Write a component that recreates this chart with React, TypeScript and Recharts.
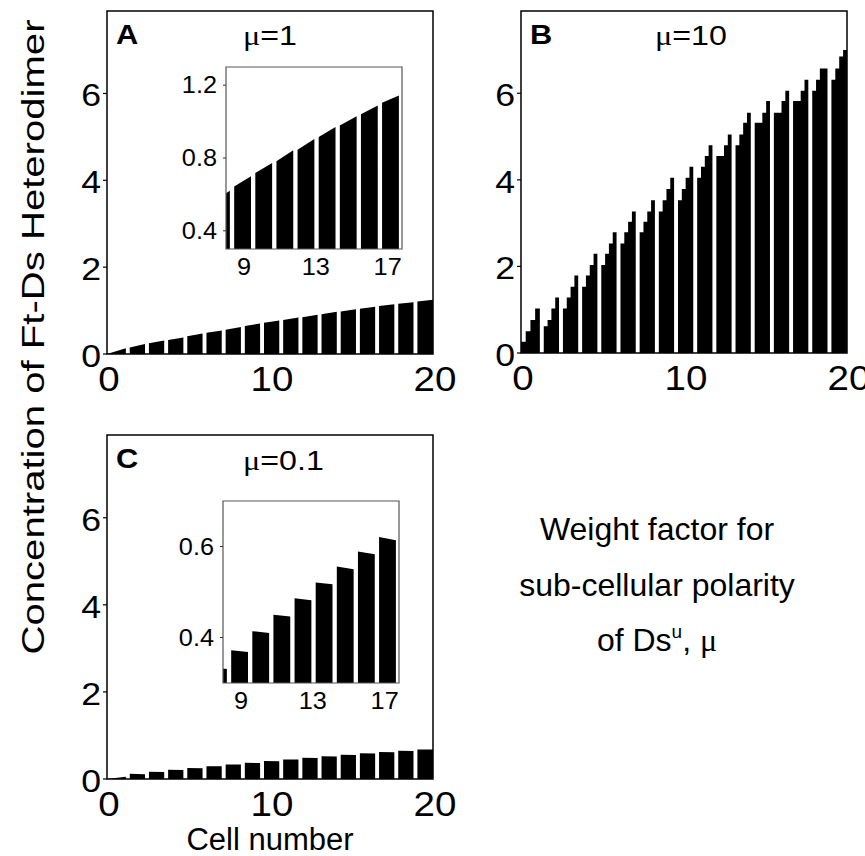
import React from 'react'
import { AreaChart, Area, XAxis, YAxis, ReferenceArea } from 'recharts'

const CELL_COUNT = 17
const X_MAX = 20
const GAP = 0.22

// mu = 1: top of each cell at its left and right membrane
const muOneLeft = [0.0, 0.15, 0.25, 0.32, 0.41, 0.49, 0.56, 0.644, 0.717, 0.782, 0.846, 0.916, 0.979, 1.04, 1.104, 1.16, 1.21]
const muOneRight = [0.13, 0.23, 0.31, 0.38, 0.47, 0.54, 0.62, 0.7, 0.773, 0.842, 0.905, 0.971, 1.03, 1.089, 1.144, 1.19, 1.25]

// mu = 10: four sub-cellular steps in each cell
const muTenSteps = [
  [0.26, 0.5, 0.76, 1.03],
  [0.62, 0.76, 1.03, 1.28],
  [1.03, 1.28, 1.53, 1.79],
  [1.53, 1.79, 2.03, 2.29],
  [2.03, 2.29, 2.53, 2.79],
  [2.53, 2.79, 3.03, 3.27],
  [2.79, 3.03, 3.27, 3.53],
  [3.27, 3.53, 3.79, 4.05],
  [3.53, 3.79, 4.05, 4.3],
  [4.05, 4.3, 4.55, 4.8],
  [4.55, 4.55, 4.8, 5.05],
  [4.8, 5.05, 5.32, 5.55],
  [5.32, 5.32, 5.55, 5.82],
  [5.55, 5.55, 5.82, 6.06],
  [5.82, 5.82, 6.06, 6.31],
  [6.06, 6.31, 6.57, 6.57],
  [6.31, 6.57, 6.85, 7.0],
]

// mu = 0.1
const muTenthLeft = [0.0, 0.12, 0.165, 0.21, 0.25, 0.295, 0.335, 0.372, 0.414, 0.45, 0.486, 0.521, 0.556, 0.589, 0.621, 0.65, 0.68]
const muTenthRight = [0.05, 0.11, 0.158, 0.205, 0.245, 0.29, 0.331, 0.368, 0.41, 0.446, 0.482, 0.517, 0.55, 0.583, 0.614, 0.645, 0.675]

const mainTicksX = [0, 10, 20]
const mainTicksY = [0, 2, 4, 6]
const insetTicksX = [9, 13, 17]
const insetTicksYA = [0.4, 0.8, 1.2]
const insetTicksYC = [0.4, 0.6]

const FONT = 'Liberation Sans, Arial, Helvetica, sans-serif'
const SERIF = 'Liberation Serif, Times New Roman, serif'

function cellSpan(k: number) {
  const w = X_MAX / CELL_COUNT
  const start = k === 0 ? 0 : k * w + GAP
  const end = k === CELL_COUNT - 1 ? X_MAX : (k + 1) * w - 0.02
  return [start, end]
}

function slopedCells(left: number[], right: number[]) {
  const pts: { x: number; v: number | null }[] = []
  left.forEach((l, k) => {
    const [s, e] = cellSpan(k)
    pts.push({ x: s, v: l }, { x: e, v: right[k] })
    if (k < left.length - 1) pts.push({ x: e + 0.01, v: null })
  })
  return pts
}

function steppedCells(steps: number[][]) {
  const pts: { x: number; v: number | null }[] = []
  steps.forEach((lv, k) => {
    const [s, e] = cellSpan(k)
    const q = (e - s) / lv.length
    lv.forEach((v, i) => pts.push({ x: s + i * q, v }))
    pts.push({ x: e, v: lv[lv.length - 1] })
    if (k < steps.length - 1) pts.push({ x: e + 0.01, v: null })
  })
  return pts
}

const dataA = slopedCells(muOneLeft, muOneRight)
const dataB = steppedCells(muTenSteps)
const dataC = slopedCells(muTenthLeft, muTenthRight)

const MainXTick = ({ x, y, payload }: any) => (
  <text transform={`translate(${x + 2},${y + 37}) scale(1.1,1)`} textAnchor="middle" fontSize={35} fontFamily={FONT} fill="#000">
    {payload.value}
  </text>
)

const MainYTick = ({ x, y, payload }: any) => (
  <text transform={`translate(${x},${y + 13}) scale(1.15,1)`} textAnchor="end" fontSize={31} fontFamily={FONT} fill="#000">
    {payload.value}
  </text>
)

const InsetXTick = ({ x, y, payload }: any) => (
  <text transform={`translate(${x},${y + 26}) scale(1.1,1)`} textAnchor="middle" fontSize={23} fontFamily={FONT} fill="#000">
    {payload.value}
  </text>
)

const InsetYTick = ({ x, y, payload }: any) => (
  <text transform={`translate(${x},${y + 8}) scale(1.1,1)`} textAnchor="end" fontSize={23} fontFamily={FONT} fill="#000">
    {payload.value}
  </text>
)

function MainPanel({ data, left, top, width, height, right, step }: any) {
  return (
    <div style={{ position: 'absolute', left, top }}>
      <AreaChart width={width} height={height} data={data} margin={{ top: 11, right, bottom: 0, left: 0 }}>
        <XAxis
          type="number"
          dataKey="x"
          domain={[0, X_MAX]}
          ticks={mainTicksX}
          interval={0}
          allowDataOverflow
          axisLine={false}
          tickLine={false}
          tickSize={0}
          tickMargin={0}
          height={56}
          tick={<MainXTick />}
        />
        <YAxis
          type="number"
          domain={[0, 7.9]}
          ticks={mainTicksY}
          interval={0}
          allowDataOverflow
          axisLine={false}
          tickLine={{ stroke: '#000', strokeWidth: 1.2 }}
          tickSize={4}
          tickMargin={2}
          width={67}
          tick={<MainYTick />}
        />
        <Area
          type={step ? 'stepAfter' : 'linear'}
          dataKey="v"
          stroke="none"
          fill="#000"
          fillOpacity={1}
          connectNulls={false}
          dot={false}
          activeDot={false}
          isAnimationActive={false}
        />
        <ReferenceArea x1={0} x2={X_MAX} y1={0} y2={7.9} fill="none" stroke="#000" strokeWidth={1.5} />
      </AreaChart>
    </div>
  )
}

function InsetPanel({ data, left, top, yDomain, yTicks }: any) {
  return (
    <div style={{ position: 'absolute', left, top }}>
      <AreaChart width={229} height={224} data={data} margin={{ top: 12, right: 2, bottom: 0, left: 0 }}>
        <XAxis
          type="number"
          dataKey="x"
          domain={[8, 17.8]}
          ticks={insetTicksX}
          interval={0}
          allowDataOverflow
          axisLine={false}
          tickLine={false}
          tickSize={0}
          tickMargin={0}
          height={30}
          tick={<InsetXTick />}
        />
        <YAxis
          type="number"
          domain={yDomain}
          ticks={yTicks}
          interval={0}
          allowDataOverflow
          axisLine={false}
          tickLine={{ stroke: '#333', strokeWidth: 1 }}
          tickSize={3}
          tickMargin={6}
          width={51}
          tick={<InsetYTick />}
        />
        <ReferenceArea x1={8} x2={17.8} y1={yDomain[0]} y2={yDomain[1]} fill="#fff" fillOpacity={1} stroke="none" />
        <Area
          type="linear"
          dataKey="v"
          stroke="none"
          fill="#000"
          fillOpacity={1}
          connectNulls={false}
          dot={false}
          activeDot={false}
          isAnimationActive={false}
        />
        <ReferenceArea x1={8} x2={17.8} y1={yDomain[0]} y2={yDomain[1]} fill="none" stroke="#555" strokeWidth={1.2} />
      </AreaChart>
    </div>
  )
}

export default function App() {
  return (
    <div style={{ position: 'absolute', left: 0, top: 0, width: 865, height: 856, overflow: 'hidden', background: '#fff' }}>
      <MainPanel data={dataA} left={40} top={0} width={420} height={410} right={27} />
      <MainPanel data={dataB} left={454} top={0} width={411} height={409} right={18} step />
      <MainPanel data={dataC} left={40} top={424} width={420} height={411} right={27} />
      <InsetPanel data={dataA} left={175} top={55} yDomain={[0.3, 1.3]} yTicks={insetTicksYA} />
      <InsetPanel data={dataC} left={172} top={489} yDomain={[0.3, 0.7]} yTicks={insetTicksYC} />

      <svg width={865} height={856} style={{ position: 'absolute', left: 0, top: 0, pointerEvents: 'none' }}>
        <g fontFamily={FONT} fill="#000">
          <text transform="translate(116,44) scale(1.1,1)" fontSize={28} fontWeight="bold">A</text>
          <text transform="translate(530,44) scale(1.1,1)" fontSize={28} fontWeight="bold">B</text>
          <text transform="translate(116,468) scale(1.1,1)" fontSize={28} fontWeight="bold">C</text>

          <text transform="translate(243,45) scale(1.15,1)" fontSize={28}>
            <tspan fontFamily={SERIF}>μ</tspan>=1
          </text>
          <text transform="translate(655,45) scale(1.15,1)" fontSize={28}>
            <tspan fontFamily={SERIF}>μ</tspan>=10
          </text>
          <text transform="translate(243,470) scale(1.15,1)" fontSize={28}>
            <tspan fontFamily={SERIF}>μ</tspan>=0.1
          </text>

          <text
            transform="translate(33,337) scale(1.05,1) rotate(-90)"
            textAnchor="middle"
            dy="0.36em"
            fontSize={30}
            textLength={635}
            lengthAdjust="spacingAndGlyphs"
          >
            Concentration of Ft-Ds Heterodimer
          </text>

          <text x={270} y={850} textAnchor="middle" fontSize={31}>Cell number</text>

          <text x={657} y={540} textAnchor="middle" fontSize={32}>Weight factor for</text>
          <text x={657} y={596} textAnchor="middle" fontSize={32}>sub-cellular polarity</text>
          <text x={657} y={651} textAnchor="middle" fontSize={32}>
            of Ds<tspan dy={-13} fontSize={19}>u</tspan>
            <tspan dy={13}>, </tspan>
            <tspan fontFamily={SERIF}>μ</tspan>
          </text>
        </g>
      </svg>
    </div>
  )
}
